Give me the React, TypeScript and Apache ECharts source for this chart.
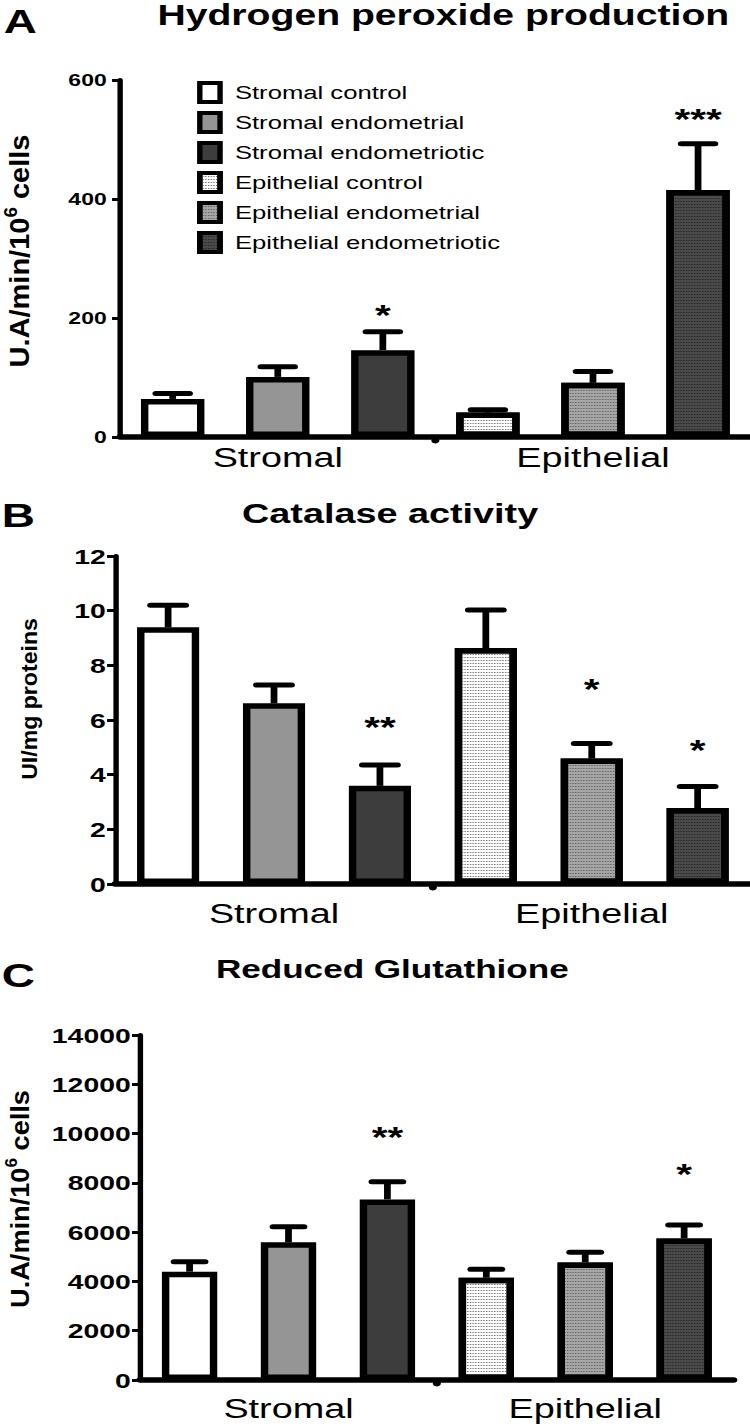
import React, { useEffect, useRef } from 'react';
import * as echarts from 'echarts';

// ---------- data ----------
const categories = [
  'Stromal control',
  'Stromal endometrial',
  'Stromal endometriotic',
  'Epithelial control',
  'Epithelial endometrial',
  'Epithelial endometriotic',
];
const groupLabels = ['Stromal', 'Epithelial'];

const h2o2Mean = [64, 101, 146, 41, 91, 415];
const h2o2Sem = [9, 17, 31, 5, 19, 78];
const h2o2Stars = ['', '', '*', '', '', '***'];
const h2o2StarLevel = [0, 0, 217, 0, 0, 546];
const h2o2Ticks = [0, 200, 400, 600];

const catalaseMean = [9.39, 6.61, 3.59, 8.63, 4.59, 2.78];
const catalaseSem = [0.81, 0.67, 0.76, 1.39, 0.55, 0.79];
const catalaseStars = ['', '', '**', '', '*', '*'];
const catalaseStarLevel = [0, 0, 6.0, 0, 7.39, 5.16];
const catalaseTicks = [0, 2, 4, 6, 8, 10, 12];

const gshMean = [4395, 5585, 7329, 4151, 4773, 5747];
const gshSem = [405, 635, 717, 339, 406, 541];
const gshStars = ['', '', '**', '', '', '*'];
const gshStarLevel = [0, 0, 10146, 0, 0, 8644];
const gshTicks = [0, 2000, 4000, 6000, 8000, 10000, 12000, 14000];

const panelTitles = ['Hydrogen peroxide production', 'Catalase activity', 'Reduced Glutathione'];
const panelLetters = ['A', 'B', 'C'];
const yNames = ['U.A/min/10{sup|6} cells', 'UI/mg proteins', 'U.A/min/10{sup|6} cells'];

// ---------- styles ----------
const FONT = '"Liberation Sans", Arial, Helvetica, sans-serif';
const STRETCH = 1.35;
const W = 750 / STRETCH;
const H = 1428;

const fillColors = ['#ffffff', '#959595', '#3d3d3d', '#ffffff', '#a6a6a6', '#4a4a4a'];
const dotColors = [null, null, null, '#6a6a6a', '#5e5e5e', '#222222'];

const layouts = [
  { grid: { left: 89, right: 0, top: 80, height: 357 }, barWidth: 47, capHalf: 12.5, tickFont: 17, labelMargin: 10, groupMargin: 6,
    title: { x: 328.4, y: 15, size: 29 }, letter: { x: 15, y: 21, size: 34 }, yName: { x: 15, y: 251, size: 20, k: 1.45 } },
  { grid: { left: 85.3, right: 0, top: 556, height: 328 }, barWidth: 46, capHalf: 13, tickFont: 21, labelMargin: 7, groupMargin: 15,
    title: { x: 289, y: 513, size: 28 }, letter: { x: 13.5, y: 515, size: 34 }, yName: { x: 21.5, y: 699, size: 17, k: 1.36 } },
  { grid: { left: 103.8, right: 12.6, top: 1035, height: 345 }, barWidth: 41, capHalf: 11.5, tickFont: 21, labelMargin: 7, groupMargin: 14,
    title: { x: 290.6, y: 969, size: 26 }, letter: { x: 13.5, y: 975, size: 34 }, yName: { x: 15, y: 1199, size: 19, k: 1.43 } },
];

const panelsData = [
  { mean: h2o2Mean, sem: h2o2Sem, stars: h2o2Stars, starLevel: h2o2StarLevel, ticks: h2o2Ticks },
  { mean: catalaseMean, sem: catalaseSem, stars: catalaseStars, starLevel: catalaseStarLevel, ticks: catalaseTicks },
  { mean: gshMean, sem: gshSem, stars: gshStars, starLevel: gshStarLevel, ticks: gshTicks },
];

const splitIndex = categories.filter((c) => c.startsWith('Stromal')).length;

function buildOption() {
  const grid: any[] = [];
  const xAxis: any[] = [];
  const yAxis: any[] = [];
  const series: any[] = [];
  const graphic: any[] = [];

  panelsData.forEach((pd, k) => {
    const L = layouts[k];
    grid.push({ ...L.grid, containLabel: false });
    xAxis.push({
      gridIndex: k, type: 'category', data: categories,
      axisLine: { show: true, lineStyle: { color: '#000', width: 5.5 } },
      axisTick: { show: false }, axisLabel: { show: false }, splitLine: { show: false },
    });
    xAxis.push({
      gridIndex: k, type: 'category', data: groupLabels, position: 'bottom',
      axisLine: { show: false }, axisTick: { show: false }, splitLine: { show: false },
      axisLabel: { show: true, color: '#000', fontSize: 28, fontFamily: FONT, margin: L.groupMargin },
    });
    const t = pd.ticks;
    yAxis.push({
      gridIndex: k, type: 'value', min: t[0], max: t[t.length - 1], interval: t[1] - t[0],
      axisLine: { show: true, lineStyle: { color: '#000', width: 4 } },
      axisTick: { show: true, length: 6, lineStyle: { color: '#000', width: 3 } },
      splitLine: { show: false },
      axisLabel: {
        color: '#000', fontSize: L.tickFont, fontWeight: 'bold', fontFamily: FONT, margin: L.labelMargin,
        formatter: (v: number) => String(v),
      },
    });

    categories.forEach((name, i) => {
      const itemStyle: any = {
        color: fillColors[i], borderColor: '#000', borderWidth: 5.5,
      };
      if (dotColors[i]) {
        itemStyle.decal = {
          symbol: 'rect', symbolSize: 1, color: dotColors[i],
          dashArrayX: [1, 1], dashArrayY: [1, 2], rotation: 0,
        };
      }
      series.push({
        type: 'bar', name, xAxisIndex: 2 * k, yAxisIndex: k,
        barWidth: L.barWidth, barGap: '-100%', z: 3, silent: true,
        data: categories.map((_, j) => (j === i ? pd.mean[j] : '-')),
        itemStyle,
      });
    });

    const capHalf = L.capHalf;
    series.push({
      type: 'custom', xAxisIndex: 2 * k, yAxisIndex: k, z: 2, silent: true,
      data: pd.mean.map((m, i) => [i, m, pd.sem[i]]),
      renderItem: (params: any, api: any) => {
        const i = api.value(0);
        const m = api.value(1);
        const s = api.value(2);
        const base = api.coord([i, m]);
        const top = api.coord([i, m + s]);
        return {
          type: 'group',
          children: [
            { type: 'line', shape: { x1: base[0], y1: base[1], x2: top[0], y2: top[1] }, style: { stroke: '#000', lineWidth: 5 } },
            { type: 'line', shape: { x1: top[0] - capHalf, y1: top[1], x2: top[0] + capHalf, y2: top[1] }, style: { stroke: '#000', lineWidth: 5, lineCap: 'round' } },
          ],
        };
      },
    });

    const stars = pd.stars;
    series.push({
      type: 'custom', xAxisIndex: 2 * k, yAxisIndex: k, z: 4, silent: true,
      data: pd.starLevel.map((lv, i) => [i, lv]).filter((d) => stars[d[0]] !== ''),
      renderItem: (params: any, api: any) => {
        const i = api.value(0);
        const pt = api.coord([i, api.value(1)]);
        return {
          type: 'text', x: pt[0], y: pt[1] + 7,
          style: { text: stars[i], fill: '#000', fontSize: 30, fontWeight: 'bold', fontFamily: FONT, align: 'center', verticalAlign: 'middle' },
        };
      },
    });

    series.push({
      type: 'custom', xAxisIndex: 2 * k, yAxisIndex: k, z: 4, silent: true,
      data: [[splitIndex - 1, t[0]]],
      renderItem: (params: any, api: any) => {
        const pt = api.coord([api.value(0), api.value(1)]);
        const band = api.size([1, 0])[0];
        return { type: 'circle', shape: { cx: pt[0] + band / 2, cy: pt[1] + 3.5, r: 3 }, style: { fill: '#000' } };
      },
    });

    graphic.push({
      type: 'text', x: L.letter.x, y: L.letter.y,
      style: { text: panelLetters[k], fill: '#000', fontSize: L.letter.size, fontWeight: 'bold', fontFamily: FONT, align: 'center', verticalAlign: 'middle' },
    });
    graphic.push({
      type: 'text', x: L.title.x, y: L.title.y,
      style: { text: panelTitles[k], fill: '#000', fontSize: L.title.size, fontWeight: 'bold', fontFamily: FONT, align: 'center', verticalAlign: 'middle' },
    });
    graphic.push({
      type: 'text', x: L.yName.x, y: L.yName.y, rotation: Math.PI / 2, scaleX: L.yName.k, scaleY: 1,
      style: {
        text: yNames[k], fill: '#000', fontSize: L.yName.size, fontWeight: 'bold', fontFamily: FONT,
        align: 'center', verticalAlign: 'middle', lineHeight: L.yName.size * 1.3,
        rich: {
          sup: { fontSize: Math.round(L.yName.size * 0.65), fontWeight: 'bold', fontFamily: FONT, fill: '#000', verticalAlign: 'top' },
        },
      },
    });
  });

  return {
    animation: false,
    backgroundColor: '#ffffff',
    textStyle: { fontFamily: FONT },
    grid, xAxis, yAxis, series, graphic,
    legend: {
      show: true, orient: 'vertical', left: 146, top: 81, padding: 0,
      data: categories, icon: 'rect', itemWidth: 15, itemHeight: 19, itemGap: 7,
      selectedMode: false,
      itemStyle: { borderColor: '#000', borderWidth: 4 },
      textStyle: { color: '#000', fontSize: 19, fontFamily: FONT, padding: [0, 0, 0, 6] },
    },
  };
}

export default function App() {
  const ref = useRef<HTMLDivElement>(null);
  useEffect(() => {
    if (!ref.current) return;
    const chart = echarts.init(ref.current, null, { renderer: 'svg' });
    chart.setOption(buildOption() as any);
    return () => chart.dispose();
  }, []);
  return (
    <div style={{ position: 'absolute', left: 0, top: 0, width: 750, height: H, overflow: 'hidden', background: '#fff' }}>
      <div
        ref={ref}
        style={{ width: W, height: H, transform: `scaleX(${STRETCH})`, transformOrigin: '0 0' }}
      />
    </div>
  );
}
